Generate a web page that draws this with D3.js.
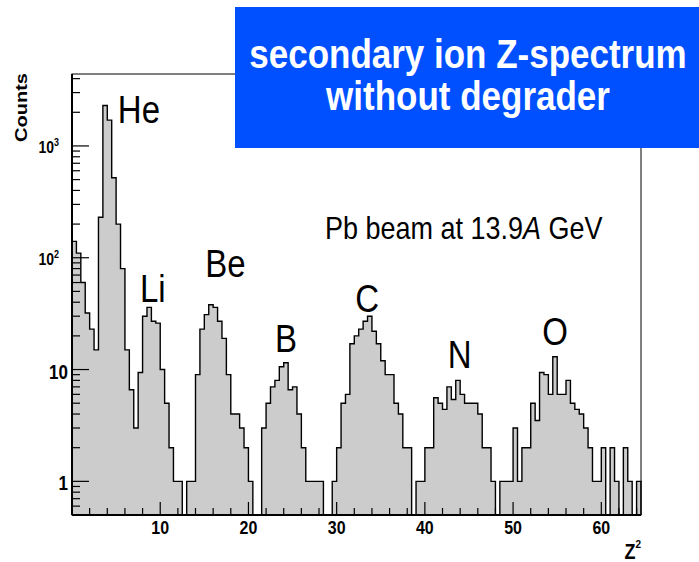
<!DOCTYPE html>
<html><head><meta charset="utf-8">
<script src="https://cdn.jsdelivr.net/npm/d3@7/dist/d3.min.js"></script>
<style>body{margin:0;background:#fff}svg{display:block}text{font-family:"Liberation Sans",Arial,sans-serif}</style>
</head><body><svg id="c" width="699" height="562"></svg>
<script>
// ---- data ----
const binWidth = 0.5; // Z^2 units per bin, first bin starts at 0
const counts = [
 140,110,60,32,23,15,230,2300,1700,520,200,80,15,6.6,3,9.4,30,36,27,26,
 10,5,2,1,1,0,1,1,9,23,31,38,36,27,19,9,4,4,3,2,
 1,0,0,3,5,7,8,10.6,11.5,6.6,7,4,2,1,1,1,1,0,0,1,
 2,5,6,17,20,23,27,30,22,17,12,9,9,5,4,2,2,0,1,1,
 2,2,5.6,5,4.4,7,5.4,8,6,5,5,5,4,2,2,1,0,1,1,1,
 3,1,2,2,5,3.5,9.4,9,6,13,6,6,8,5,4.4,4,3,2,1,1,
 2,0,2,1,0,2,1,0,1
];
const xDomain = [0, 64.5];
const yDomain = [0.5, 4400];
const xMajor = [10,20,30,40,50,60];
const yMajor = [{v:1000,b:"10",e:"3"},{v:100,b:"10",e:"2"},{v:10,b:"10",e:""},{v:1,b:"1",e:""}];
const peakLabels = [
 {t:"He",z:5.2,v:1600},{t:"Li",z:7.7,v:40},{t:"Be",z:15.1,v:67},{t:"B",z:23.0,v:14.4},
 {t:"C",z:32.1,v:32.7},{t:"N",z:42.6,v:10.3},{t:"O",z:53.3,v:16.6}
];
const titleLines = ["secondary ion Z-spectrum","without degrader"];
const annotation = ["Pb beam at 13.9","A"," GeV"];

// ---- layout ----
const L=72, R=641, T=74, B=515, SY=1.18;
const svg = d3.select("#c");
const x = d3.scaleLinear().domain(xDomain).range([L,R]);
const y = d3.scaleLog().domain(yDomain).range([B,T]).clamp(true);

// histogram step path
const yv = v => v>0 ? y(v) : B;
let p = d3.path();
p.moveTo(x(0), B);
counts.forEach((v,i)=>{ const lo=i*binWidth, hi=lo+binWidth; p.lineTo(x(lo), yv(v)); p.lineTo(x(hi), yv(v)); });
p.lineTo(x(counts.length*binWidth), B);
svg.append("path").attr("d", p.toString()).attr("fill","#cccccc").attr("stroke","#000").attr("stroke-width",1.4).attr("stroke-linejoin","miter");

// frame
svg.append("rect").attr("x",L).attr("y",T).attr("width",R-L).attr("height",B-T).attr("fill","none").attr("stroke","#000").attr("stroke-width",1);
svg.append("line").attr("x1",L).attr("x2",L).attr("y1",T).attr("y2",B).attr("stroke","#000").attr("stroke-width",2);
svg.append("line").attr("x1",L).attr("x2",R).attr("y1",B).attr("y2",B).attr("stroke","#000").attr("stroke-width",2);

// x ticks (inside)
const xMinor = d3.range(2, 64.5, 2);
const g = svg.append("g").attr("stroke","#000").attr("stroke-width",1.2);
xMinor.forEach(v=>{ const maj = v%10===0; g.append("line").attr("x1",x(v)).attr("x2",x(v)).attr("y1",B).attr("y2",B-(maj?13:7)); });
// y ticks (inside)
const yMinor = [];
[0.1,1,10,100,1000].forEach(d=>{ for(let k=1;k<=9;k++){ const v=d*k; if(v>=yDomain[0]&&v<=yDomain[1]) yMinor.push(v);} });
yMinor.forEach(v=>{ const maj = Math.abs(Math.log10(v)-Math.round(Math.log10(v)))<1e-9; g.append("line").attr("x1",L).attr("x2",L+(maj?17:8)).attr("y1",y(v)).attr("y2",y(v)); });

function stxt(xp, yp, size, weight, anchor){
  return svg.append("text").attr("transform",`translate(${xp},${yp}) scale(1,${SY})`)
    .attr("font-size",size).attr("font-weight",weight).attr("text-anchor",anchor);
}
// x tick labels
xMajor.forEach(v=>{ stxt(x(v), 534, 16, "bold", "middle").text(v); });
// y tick labels
yMajor.forEach(d=>{
  if(d.e){
    const t = stxt(59, y(d.v)+7, 14, "bold", "end");
    t.append("tspan").text(d.b);
    t.append("tspan").attr("font-size",9).attr("dy",-6).text(d.e);
  } else {
    stxt(68, y(d.v)+9, 17, "bold", "end").text(d.b);
  }
});
// axis titles
svg.append("text").attr("transform",`translate(27,73) rotate(-90) scale(${SY},1)`).attr("font-size",17).attr("font-weight","bold").attr("text-anchor","end").text("Counts");
const zt = stxt(641, 559, 18, "bold", "end");
zt.append("tspan").text("Z");
zt.append("tspan").attr("font-size",10).attr("dy",-9).text("2");

// peak labels
peakLabels.forEach(d=>{ stxt(x(d.z), y(d.v), 33, "normal", "start").attr("fill","#000").text(d.t); });

// annotation
const at = stxt(325, 239, 27, "normal", "start");
at.append("tspan").text(annotation[0]);
at.append("tspan").attr("font-style","italic").text(annotation[1]);
at.append("tspan").text(annotation[2]);

// title box
svg.append("rect").attr("x",235).attr("y",7).attr("width",470).attr("height",141).attr("fill","#0050ff");
stxt(468, 68, 35, "bold", "middle").attr("fill","#fff").text(titleLines[0]);
stxt(468, 110, 35, "bold", "middle").attr("fill","#fff").text(titleLines[1]);
</script></body></html>
